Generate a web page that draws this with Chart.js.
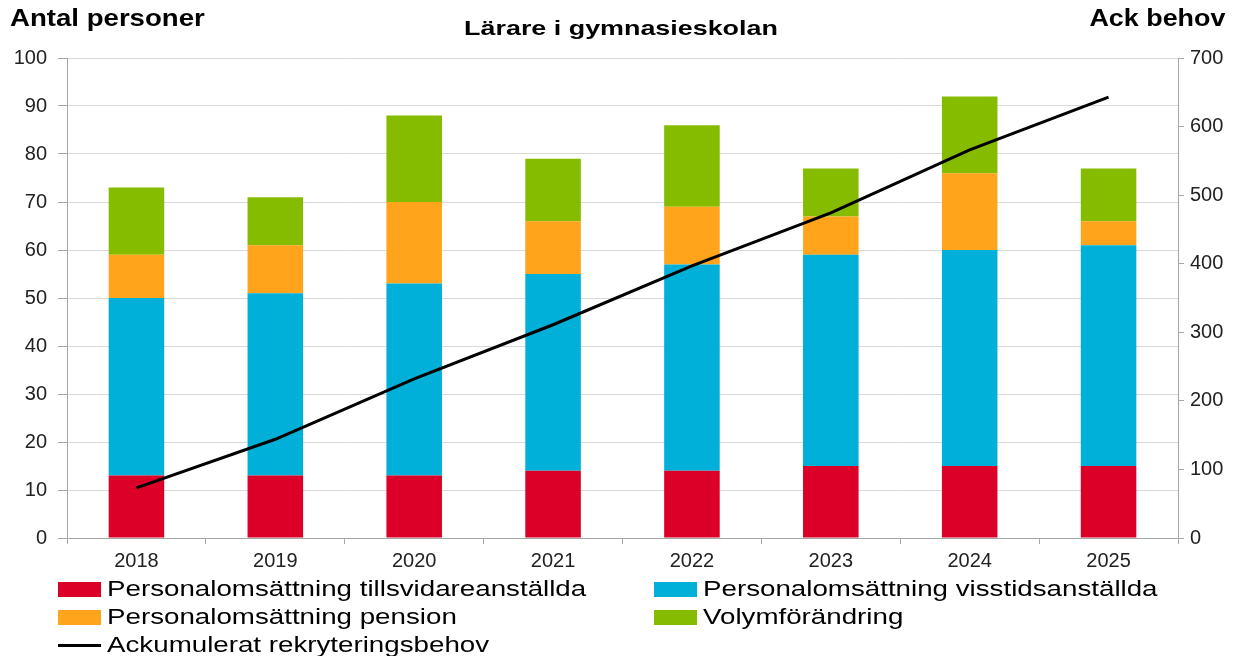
<!DOCTYPE html>
<html>
<head>
<meta charset="utf-8">
<script src="https://cdn.jsdelivr.net/npm/chart.js@4"></script>
<style>
  body { margin: 0; background: #fff; font-family: "Liberation Sans", Arial, sans-serif; }
  #wrap { position: relative; width: 1237px; height: 656px; overflow: hidden; }
  .lbl { position: absolute; font-weight: bold; color: #000; white-space: nowrap; }
  #legend { position: absolute; left: 0; top: 575px; width: 1237px; font-size: 22px; color: #000; }
  .item { position: absolute; display: flex; align-items: center; height: 28px; white-space: nowrap; }
  .txt { display: inline-block; transform: scaleX(1.26); transform-origin: left center; }
  .box { width: 43px; height: 15px; margin-right: 6px; }
  .ln { width: 43px; height: 3px; margin-right: 6px; background: #000; }
</style>
</head>
<body>
<div id="wrap">
  <canvas id="chart" width="1237" height="656"></canvas>
  <div class="lbl" style="left:10px; top:4px; font-size:24px; transform:scaleX(1.15); transform-origin:left top;">Antal personer</div>
  <div class="lbl" style="right:12px; top:4px; font-size:24px; transform:scaleX(1.12); transform-origin:right top;">Ack behov</div>
  <div class="lbl" style="left:0; width:1242px; text-align:center; top:16px; font-size:21px; transform:scaleX(1.28);">Lärare i gymnasieskolan</div>
  <div id="legend"></div>
</div>
<script>
const years = ["2018", "2019", "2020", "2021", "2022", "2023", "2024", "2025"];
const tillsvidare = [13, 13, 13, 14, 14, 15, 15, 15];
const visstid = [37, 38, 40, 41, 43, 44, 45, 46];
const pension = [9, 10, 17, 11, 12, 8, 16, 5];
const volym = [14, 10, 18, 13, 17, 10, 16, 11];
const ackBehov = [73, 144, 232, 311, 397, 474, 566, 643];

const gridColor = "#d9d9d9";
const axisColor = "#a6a6a6";
const font = { family: "'Liberation Sans', Arial, sans-serif", size: 20 };

function bar(label, data, color) {
    return { type: 'bar', label, data, backgroundColor: color, stack: 's', yAxisID: 'y', order: 2,
             barPercentage: 0.4, categoryPercentage: 1.0 };
}

const datasets = [
    bar("Personalomsättning tillsvidareanställda", tillsvidare, "#dc0029"),
    bar("Personalomsättning visstidsanställda", visstid, "#00b0d8"),
    bar("Personalomsättning pension", pension, "#ffa41b"),
    bar("Volymförändring", volym, "#85bc00"),
    { type: 'line', label: "Ackumulerat rekryteringsbehov", data: ackBehov, borderColor: "#000",
      borderWidth: 3, pointRadius: 0, yAxisID: 'y2', order: 1, tension: 0 }
];

new Chart(document.getElementById("chart"), {
    data: { labels: years, datasets },
    options: {
        responsive: false,
        animation: false,
        layout: { padding: { top: 58, bottom: 78, left: 0, right: 0 } },
        plugins: { legend: { display: false }, tooltip: { enabled: false } },
        scales: {
            x: {
                stacked: true,
                offset: true,
                grid: { offset: true, drawOnChartArea: false, drawTicks: true, tickLength: 6, color: axisColor },
                border: { color: axisColor },
                ticks: { color: "#222", font, padding: 5 },
                afterFit: s => { s.height = 40; }
            },
            y: {
                stacked: true,
                min: 0, max: 100,
                ticks: { stepSize: 10, color: "#222", font, padding: 11 },
                grid: { color: gridColor, tickLength: 9, tickColor: axisColor },
                border: { color: axisColor },
                afterFit: s => { s.width = 67; }
            },
            y2: {
                position: 'right',
                min: 0, max: 700,
                ticks: { stepSize: 100, color: "#222", font, padding: 6 },
                grid: { drawOnChartArea: false, tickLength: 6, color: axisColor },
                border: { color: axisColor },
                afterFit: s => { s.width = 59; }
            }
        }
    }
});

// legend in two columns like the original
const legend = document.getElementById("legend");
const spots = [[58, 0], [654, 0], [58, 28], [654, 28], [58, 56]];
datasets.forEach((ds, i) => {
    const el = document.createElement("div");
    el.className = "item";
    el.style.left = spots[i][0] + "px";
    el.style.top = spots[i][1] + "px";
    const mark = document.createElement("span");
    if (ds.type === 'line') {
        mark.className = "ln";
    } else {
        mark.className = "box";
        mark.style.background = ds.backgroundColor;
    }
    const txt = document.createElement("span");
    txt.className = "txt";
    txt.textContent = ds.label;
    el.appendChild(mark);
    el.appendChild(txt);
    legend.appendChild(el);
});
</script>
</body>
</html>
